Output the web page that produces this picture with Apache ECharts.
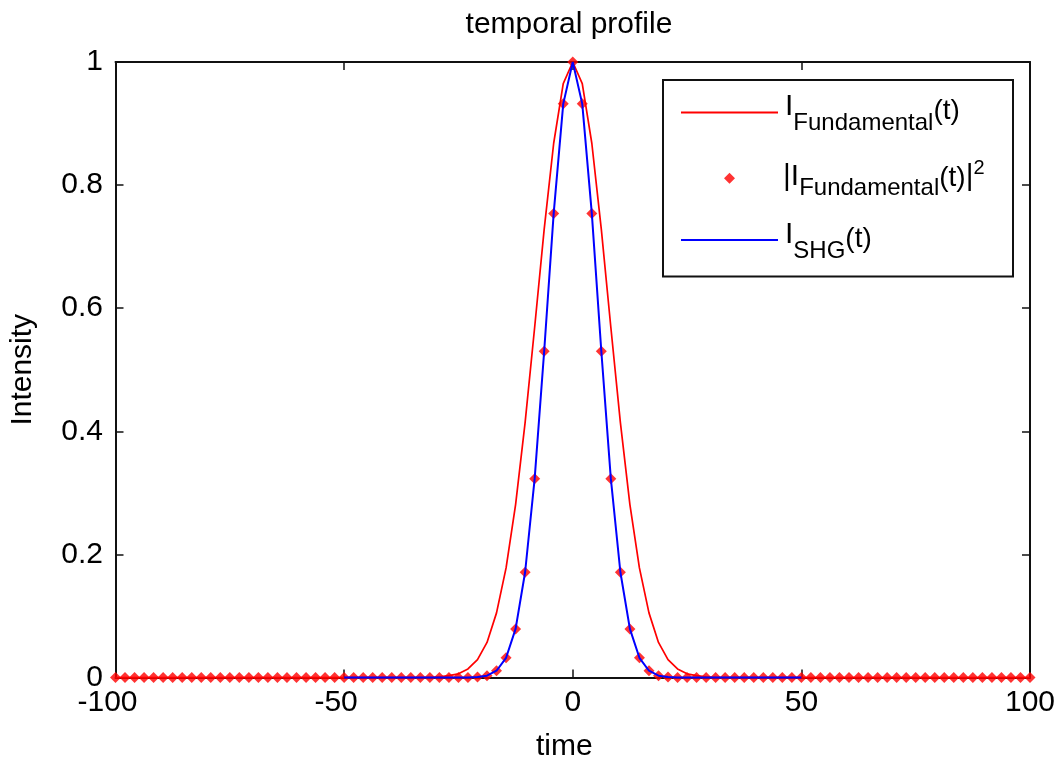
<!DOCTYPE html>
<html>
<head>
<meta charset="utf-8">
<script src="https://cdn.jsdelivr.net/npm/echarts@6/dist/echarts.min.js"></script>
<style>
html,body{margin:0;padding:0;background:#fff;}
#chart{width:1056px;height:758px;}
</style>
</head>
<body>
<div id="chart"></div>
<script>
// ---- data ----
const time = [
  -100, -97.92, -95.83, -93.75, -91.67, -89.58, -87.5, -85.42, -83.33, -81.25,
  -79.17, -77.08, -75, -72.92, -70.83, -68.75, -66.67, -64.58, -62.5, -60.42,
  -58.33, -56.25, -54.17, -52.08, -50, -47.92, -45.83, -43.75, -41.67, -39.58,
  -37.5, -35.42, -33.33, -31.25, -29.17, -27.08, -25, -22.92, -20.83, -18.75,
  -16.67, -14.58, -12.5, -10.42, -8.33, -6.25, -4.17, -2.08,
  0,
  2.08, 4.17, 6.25, 8.33, 10.42, 12.5, 14.58, 16.67, 18.75, 20.83,
  22.92, 25, 27.08, 29.17, 31.25, 33.33, 35.42, 37.5, 39.58, 41.67,
  43.75, 45.83, 47.92, 50, 52.08, 54.17, 56.25, 58.33, 60.42, 62.5,
  64.58, 66.67, 68.75, 70.83, 72.92, 75, 77.08, 79.17, 81.25, 83.33,
  85.42, 87.5, 89.58, 91.67, 93.75, 95.83, 97.92, 100
];
const intensityFund = [
  0,0,0,0,0,0,0,0,0,0,
  0,0,0,0,0,0,0,0,0,0,
  0,0,0,0,0,0,0,0,0,0,
  0,0,0,0,
  0.001,0.003,0.006,0.014,0.029,0.057,0.105,0.178,0.281,0.414,0.569,0.728,0.868,0.965,
  1,
  0.965,0.868,0.728,0.569,0.414,0.281,0.178,0.105,0.057,0.029,0.014,0.006,0.003,0.001,
  0,0,0,0,
  0,0,0,0,0,0,0,0,0,0,
  0,0,0,0,0,0,0,0,0,0,
  0,0,0,0,0,0,0,0,0,0
];
const intensityFundSquared = [
  0,0,0,0,0,0,0,0,0,0,
  0,0,0,0,0,0,0,0,0,0,
  0,0,0,0,0,0,0,0,0,0,
  0,0,0,0,0,0,0,0,
  0.001,0.003,0.011,0.032,0.079,0.171,0.323,0.530,0.754,0.932,
  1,
  0.932,0.754,0.530,0.323,0.171,0.079,0.032,0.011,0.003,0.001,
  0,0,0,0,0,0,0,0,
  0,0,0,0,0,0,0,0,0,0,
  0,0,0,0,0,0,0,0,0,0,
  0,0,0,0,0,0,0,0,0,0
];
const shgTime = time.slice(24, 73);
const intensitySHG = [
  0,0,0,0,0,0,0,0,0,0,0,0,0,0,
  0.001,0.003,0.011,0.032,0.079,0.171,0.323,0.530,0.754,0.932,
  1,
  0.932,0.754,0.530,0.323,0.171,0.079,0.032,0.011,0.003,0.001,
  0,0,0,0,0,0,0,0,0,0,0,0,0,0
];
const xTicks = { min: -100, max: 100, step: 50 };
const yTicks = { min: 0, max: 1, step: 0.2 };
const titleText = 'temporal profile';
const xName = 'time';
const yName = 'Intensity';

// ---- chart ----
const FONT = "'Liberation Sans', Arial, Helvetica, sans-serif";
const chart = echarts.init(document.getElementById('chart'), null, { renderer: 'canvas' });

function tok(size, top, bottom, left) {
  return { fontSize: size, fontFamily: FONT, color: '#000', verticalAlign: 'top',
           padding: [top, 0, bottom || 0, left || 0] };
}
const legendLabels = {
  fund: '{a1|I}{s1|Fundamental}{t1|(t)}',
  fundsq: '{m2||I}{s2|Fundamental}{t2|(t)}{m2||}{p2|2}',
  shg: '{a3|I}{s3|SHG}{t3|(t)}'
};
// icons drawn in a 97x70 box; tiny corner specks pin the box so the icon centre is at 35
const BOX = 'M0,0L0.01,0L0.01,0.01ZM96.99,70L97,70L97,69.99Z';
const LINE_ICON = 'path://M0,34.1H97V35.9H0Z' + BOX;
const DOT_ICON = 'path://M43,35L48.5,29.5L54,35L48.5,40.5Z' + BOX;
const richStyles = {
  a1: tok(30, 6.8, 0, 2), s1: tok(24, 27, 4.6), t1: tok(28, 12.8),
  m2: tok(30, 6), s2: tok(24, 20.2), t2: tok(28, 7.9), p2: tok(20, 2.3),
  a3: tok(30, 3.7, 0, 2), s3: tok(24, 23.4), t3: tok(28, 8.7)
};
function legendRow(name, icon, centerY) {
  return {
    orient: 'vertical', left: 681, top: centerY - 35, padding: 0,
    itemWidth: 97, itemHeight: 70, symbolKeepAspect: true, selectedMode: false, z: 5,
    data: [{ name: name, icon: icon }],
    formatter: function (n) { return legendLabels[n]; },
    textStyle: { fontSize: 30, fontFamily: FONT, color: '#000', rich: richStyles }
  };
}

const gridBox = { left: 115.5, top: 62, width: 914.5, height: 615.5 };
const axisColor = '#111';

const option = {
  animation: false,
  backgroundColor: '#fff',
  title: {
    text: titleText, left: 465.6, top: 9.6, padding: 0,
    textStyle: { fontSize: 30, fontWeight: 'normal', color: '#000', fontFamily: FONT }
  },
  grid: Object.assign({ outerBoundsMode: 'none', containLabel: false }, gridBox),
  graphic: [{
    type: 'rect', z: 3, silent: true,
    shape: { x: 663, y: 80, width: 350, height: 196.5 },
    style: { fill: '#fff', stroke: '#111', lineWidth: 2 }
  }],
  legend: [
    legendRow('fund', LINE_ICON, 112.5),
    legendRow('fundsq', DOT_ICON, 178.3),
    legendRow('shg', LINE_ICON, 240)
  ],
  xAxis: [{
    type: 'value', position: 'bottom', min: xTicks.min, max: xTicks.max, interval: xTicks.step,
    name: xName, nameLocation: 'middle', nameGap: 54,
    nameTextStyle: { fontSize: 30, fontFamily: FONT, color: '#000', padding: [0, 17, 0, 0] },
    axisLine: { show: true, onZero: false, lineStyle: { color: axisColor, width: 2 } },
    axisTick: { show: true, inside: true, length: 8, lineStyle: { color: axisColor, width: 1.5 } },
    axisLabel: {
      show: true, margin: 10.5, color: '#000', fontSize: 30, fontFamily: FONT,
      showMinLabel: true, showMaxLabel: true,
      formatter: function (v) { return v < 0 ? '{neg|' + v + '}' : '{pos|' + v + '}'; },
      rich: {
        neg: { fontSize: 30, fontFamily: FONT, color: '#000', padding: [0, 16, 0, 0] },
        pos: { fontSize: 30, fontFamily: FONT, color: '#000' }
      }
    },
    splitLine: { show: false }
  }, {
    type: 'value', position: 'top', min: xTicks.min, max: xTicks.max, interval: xTicks.step,
    axisLine: { show: true, onZero: false, lineStyle: { color: axisColor, width: 2 } },
    axisTick: { show: true, inside: true, length: 8, lineStyle: { color: axisColor, width: 1.5 } },
    axisLabel: { show: false }, splitLine: { show: false }
  }],
  yAxis: [{
    type: 'value', position: 'left', min: yTicks.min, max: yTicks.max, interval: yTicks.step,
    name: yName, nameLocation: 'middle', nameGap: 77.6,
    nameTextStyle: { fontSize: 30, fontFamily: FONT, color: '#000' },
    axisLine: { show: true, onZero: false, lineStyle: { color: axisColor, width: 2 } },
    axisTick: { show: true, inside: true, length: 8, lineStyle: { color: axisColor, width: 1.5 } },
    axisLabel: { show: true, margin: 12.5, color: '#000', fontSize: 30, fontFamily: FONT,
                 showMinLabel: true, showMaxLabel: true },
    splitLine: { show: false }
  }, {
    type: 'value', position: 'right', min: yTicks.min, max: yTicks.max, interval: yTicks.step,
    axisLine: { show: true, onZero: false, lineStyle: { color: axisColor, width: 2 } },
    axisTick: { show: true, inside: true, length: 8, lineStyle: { color: axisColor, width: 1.5 } },
    axisLabel: { show: false }, splitLine: { show: false }
  }],
  series: [{
    name: 'fund', type: 'line', xAxisIndex: 0, yAxisIndex: 0,
    data: time.map(function (t, i) { return [t, intensityFund[i]]; }),
    symbol: 'none', showSymbol: false, clip: false, color: '#ff0000',
    lineStyle: { color: '#ff0000', width: 1.7 }, itemStyle: { color: '#ff0000' }
  }, {
    name: 'fundsq', type: 'scatter', xAxisIndex: 0, yAxisIndex: 0,
    data: time.map(function (t, i) { return [t, intensityFundSquared[i]]; }),
    symbol: 'diamond', symbolSize: 11, clip: false, color: '#ff0000',
    itemStyle: { color: '#ff0000' }
  }, {
    name: 'shg', type: 'line', xAxisIndex: 0, yAxisIndex: 0,
    data: shgTime.map(function (t, i) { return [t, intensitySHG[i]]; }),
    symbol: 'none', showSymbol: false, clip: false, color: '#0000ff',
    lineStyle: { color: '#0000ff', width: 2 }, itemStyle: { color: '#0000ff' }
  }]
};
chart.setOption(option);
</script>
</body>
</html>
